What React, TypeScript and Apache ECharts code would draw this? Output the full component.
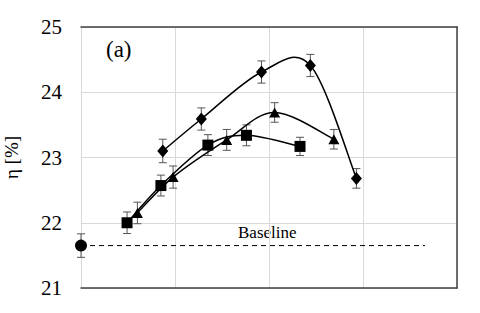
import React, { useEffect, useRef } from "react";
import * as echarts from "echarts";

const squareX = [0.49, 0.85, 1.35, 1.76, 2.33];
const squareY = [22.0, 22.57, 23.19, 23.34, 23.17];
const triangleX = [0.6, 0.98, 1.55, 2.06, 2.69];
const triangleY = [22.15, 22.7, 23.27, 23.69, 23.28];
const diamondX = [0.87, 1.28, 1.92, 2.44, 2.93];
const diamondY = [23.1, 23.59, 24.31, 24.41, 22.68];
const errSq = [0.165, 0.16, 0.16, 0.16, 0.14];
const errTri = [0.165, 0.17, 0.16, 0.15, 0.15];
const errDia = [0.18, 0.17, 0.17, 0.17, 0.15];
const baselineX = [0, 3.66];
const baselineY = 21.65;
const baselineErr = 0.18;
const yTicks = [21, 22, 23, 24, 25];

const FONT = "'Liberation Serif', 'Times New Roman', serif";

function smoothCurve(xs: number[], ys: number[]) {
  return {
    type: "custom",
    data: xs.map((x, i) => [x, ys[i]]),
    z: 2,
    clip: false,
    renderItem: (params: any, api: any) => {
      const i = params.dataIndex;
      const n = xs.length;
      if (i >= n - 1) return null;
      const p = (k: number) => {
        const kk = Math.max(0, Math.min(n - 1, k));
        return api.coord([xs[kk], ys[kk]]);
      };
      const p0 = p(i - 1);
      const p1 = p(i);
      const p2 = p(i + 1);
      const p3 = p(i + 2);
      const t = 1 / 6;
      return {
        type: "bezierCurve",
        shape: {
          x1: p1[0],
          y1: p1[1],
          cpx1: p1[0] + (p2[0] - p0[0]) * t,
          cpy1: p1[1] + (p2[1] - p0[1]) * t,
          cpx2: p2[0] - (p3[0] - p1[0]) * t,
          cpy2: p2[1] - (p3[1] - p1[1]) * t,
          x2: p2[0],
          y2: p2[1],
        },
        style: { stroke: "#000", lineWidth: 1.5, fill: null },
      };
    },
  };
}

export default function App() {
  const ref = useRef<HTMLDivElement>(null);
  useEffect(() => {
    const chart = echarts.init(ref.current!, null, { renderer: "svg" });
    const pts = (xs: number[], ys: number[]) => xs.map((x, i) => [x, ys[i]]);
    const errData = [
      ...squareX.map((x, i) => [x, squareY[i], errSq[i]]),
      ...triangleX.map((x, i) => [x, triangleY[i], errTri[i]]),
      ...diamondX.map((x, i) => [x, diamondY[i], errDia[i]]),
      [baselineX[0], baselineY, baselineErr],
    ];
    chart.setOption({
      animation: false,
      backgroundColor: "#fff",
      textStyle: { fontFamily: FONT },
      grid: { left: 81, right: 23, top: 27, bottom: 25, outerBoundsMode: "none", containLabel: false },
      xAxis: [
        {
          type: "value",
          min: 0,
          max: 4,
          interval: 1,
          axisLine: { show: true, lineStyle: { color: "#404040", width: 1.5 } },
          axisTick: { show: false },
          axisLabel: { show: false },
          splitLine: { show: true, lineStyle: { color: "#d9d9d9", width: 1 } },
        },
        {
          type: "value",
          position: "top",
          min: 0,
          max: 4,
          interval: 1,
          axisLine: { show: true, onZero: false, lineStyle: { color: "#404040", width: 1.5 } },
          axisTick: { show: false },
          axisLabel: { show: false },
          splitLine: { show: false },
        },
      ],
      yAxis: [
        {
          type: "value",
          min: yTicks[0],
          max: yTicks[yTicks.length - 1],
          interval: 1,
          name: "η [%]",
          nameLocation: "middle",
          nameRotate: 90,
          nameGap: 60,
          nameTextStyle: { fontFamily: FONT, fontSize: 19, color: "#000" },
          axisLine: { show: false },
          axisTick: { show: false },
          axisLabel: { fontFamily: FONT, fontSize: 21, color: "#000", margin: 19 },
          splitLine: { show: true, lineStyle: { color: "#d9d9d9", width: 1 } },
        },
        {
          type: "value",
          position: "right",
          min: yTicks[0],
          max: yTicks[yTicks.length - 1],
          interval: 1,
          axisLine: { show: true, onZero: false, lineStyle: { color: "#404040", width: 1.5 } },
          axisTick: { show: false },
          axisLabel: { show: false },
          splitLine: { show: false },
        },
      ],
      graphic: [
        {
          type: "text",
          left: 106,
          top: 38,
          style: { text: "(a)", fontFamily: FONT, fontSize: 23, fill: "#000" },
        },
        {
          type: "text",
          left: 238,
          top: 224,
          style: { text: "Baseline", fontFamily: FONT, fontSize: 17, fill: "#000" },
        },
      ],
      series: [
        {
          type: "custom",
          data: errData,
          z: 1,
          renderItem: (params: any, api: any) => {
            const x = api.value(0);
            const y = api.value(1);
            const e = api.value(2);
            const top = api.coord([x, y + e]);
            const bot = api.coord([x, y - e]);
            const w = 4;
            const style = { stroke: "#555", lineWidth: 1 };
            return {
              type: "group",
              children: [
                { type: "line", shape: { x1: top[0], y1: top[1], x2: bot[0], y2: bot[1] }, style },
                { type: "line", shape: { x1: top[0] - w, y1: top[1], x2: top[0] + w, y2: top[1] }, style },
                { type: "line", shape: { x1: bot[0] - w, y1: bot[1], x2: bot[0] + w, y2: bot[1] }, style },
              ],
            };
          },
        },
        {
          type: "line",
          data: baselineX.map((x) => [x, baselineY]),
          showSymbol: false,
          symbol: "none",
          lineStyle: { color: "#000", width: 1, type: [5, 4] },
          z: 2,
        },
        smoothCurve(squareX, squareY),
        smoothCurve(triangleX, triangleY),
        smoothCurve(diamondX, diamondY),
        {
          type: "scatter",
          data: [[baselineX[0], baselineY]],
          symbol: "circle",
          symbolSize: 12,
          clip: false,
          itemStyle: { color: "#000", opacity: 1 },
          z: 3,
        },
        {
          type: "scatter",
          data: pts(squareX, squareY),
          symbol: "rect",
          symbolSize: 11,
          itemStyle: { color: "#000", opacity: 1 },
          z: 3,
        },
        {
          type: "scatter",
          data: pts(triangleX, triangleY),
          symbol: "triangle",
          symbolSize: [11, 10],
          itemStyle: { color: "#000", opacity: 1 },
          z: 3,
        },
        {
          type: "scatter",
          data: pts(diamondX, diamondY),
          symbol: "diamond",
          symbolSize: [11, 13],
          itemStyle: { color: "#000", opacity: 1 },
          z: 3,
        },
      ],
    });
    return () => chart.dispose();
  }, []);
  return <div ref={ref} style={{ width: 480, height: 313, position: "fixed", left: 0, top: 0 }} />;
}
